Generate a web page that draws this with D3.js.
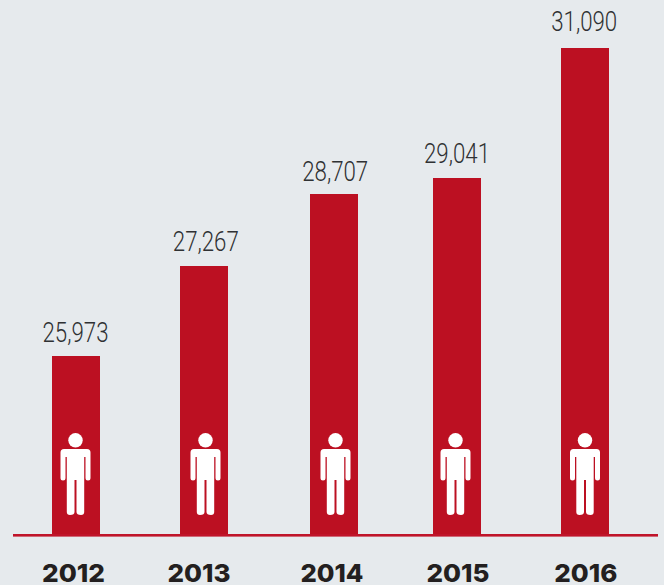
<!DOCTYPE html>
<html>
<head>
<meta charset="utf-8">
<script src="https://cdn.jsdelivr.net/npm/d3@7"></script>
<style>
html,body{margin:0;padding:0;background:#e6eaed;}
svg{display:block;}
</style>
</head>
<body>
<svg id="chart" width="664" height="585"></svg>
<script>
const years = ["2012","2013","2014","2015","2016"];
const values = [25973,27267,28707,29041,31090];

const W = 664, H = 585, baseY = 535;
const RED = "#bc1022";

// The source's bar heights are not proportional to its values, so the value
// scale is piecewise, calibrated to the bar tops measured in the picture.
const y = d3.scaleLinear().domain(values).range([356,266,194,178,48]);
// The source's columns and labels are hand-placed and slightly uneven.
const barX = d3.scaleOrdinal(years,[52,180,310,433,561]);
const iconX = d3.scaleOrdinal(years,[75.5,205.5,335.5,455.5,585]);
const valueX = d3.scaleOrdinal(years,[75.5,205.8,335.2,457,584.2]);
const valueY = d3.scaleOrdinal(years,[342,251,181,162.5,31]);
const yearX = d3.scaleOrdinal(years,[73.5,199,332,458,585.8]);
const barW = 48;

const fmt = d3.format(",");
const svg = d3.select("#chart");
const rows = years.map((year,i)=>({year,value:values[i]}));

svg.append("rect").attr("width",W).attr("height",H).attr("fill","#e6eaed");

svg.selectAll("rect.bar").data(rows).join("rect")
  .attr("class","bar")
  .attr("x",d=>barX(d.year)).attr("width",barW)
  .attr("y",d=>y(d.value)).attr("height",d=>baseY-y(d.value))
  .attr("fill",RED);

svg.append("rect")
  .attr("x",13).attr("width",645).attr("y",534).attr("height",2.6)
  .attr("fill","#c0142a");

svg.selectAll("text.value").data(rows).join("text")
  .attr("class","value")
  .attr("x",d=>valueX(d.year)).attr("y",d=>valueY(d.year))
  .attr("text-anchor","middle")
  .attr("font-family","Roboto")
  .attr("font-weight",300)
  .attr("font-size",27.5)
  .attr("textLength",66).attr("lengthAdjust","spacingAndGlyphs")
  .attr("fill","#2f3133")
  .text(d=>fmt(d.value));

svg.selectAll("text.year").data(rows).join("text")
  .attr("class","year")
  .attr("x",d=>yearX(d.year)).attr("y",581.8)
  .attr("text-anchor","middle")
  .attr("font-family","Inter")
  .attr("font-weight",800)
  .attr("font-size",25)
  .attr("textLength",63).attr("lengthAdjust","spacingAndGlyphs")
  .attr("fill","#231f20")
  .text(d=>d.year);

// Person pictogram, drawn around its own centre line.
const person = svg.selectAll("g.person").data(rows).join("g")
  .attr("class","person")
  .attr("transform",d=>`translate(${iconX(d.year)},0)`)
  .attr("fill","#fff");
person.append("circle").attr("cx",0).attr("cy",440.3).attr("r",7.2);
person.append("path").attr("d",
  "M-11.5,449 H11.5 Q15,449 15,452.5 V478 Q15,480.5 12.5,480.5 Q10,480.5 10,478 V457 H8.7 V512 Q8.7,515 5.5,515 Q1,515 1,512 V480 H-1 V512 Q-1,515 -5.5,515 Q-8.7,515 -8.7,512 V457 H-10 V478 Q-10,480.5 -12.5,480.5 Q-15,480.5 -15,478 V452.5 Q-15,449 -11.5,449 Z");
</script>
</body>
</html>
